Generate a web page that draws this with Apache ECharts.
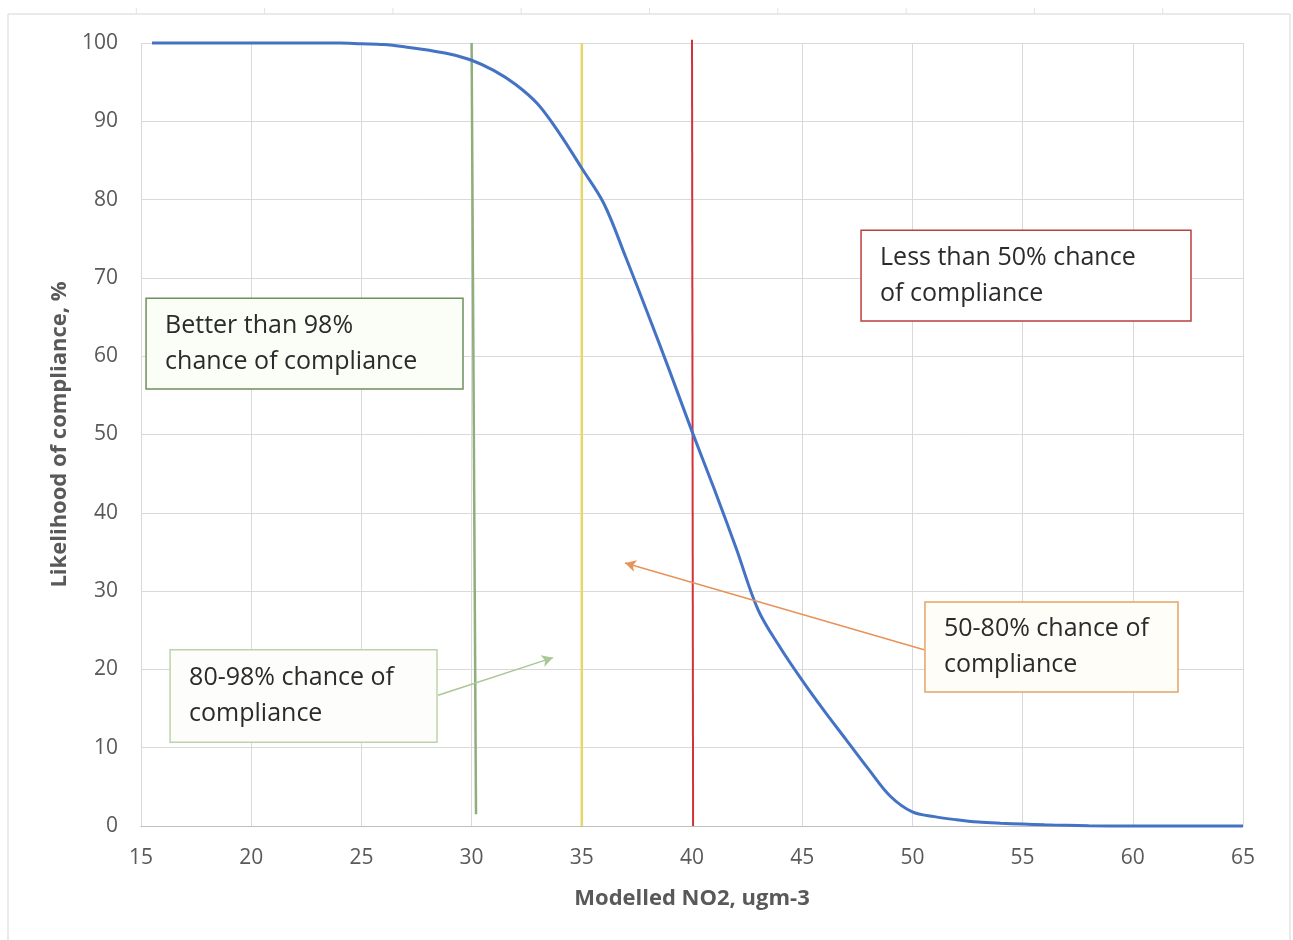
<!DOCTYPE html>
<html>
<head>
<meta charset="utf-8">
<script src="https://cdn.jsdelivr.net/npm/echarts@6/dist/echarts.min.js"></script>
<style>
html,body{margin:0;padding:0;background:#fff;}
#main{width:1293px;height:940px;}
</style>
</head>
<body>
<div id="main"></div>
<script>
// ---- Data ----
const xTicks = [15, 20, 25, 30, 35, 40, 45, 50, 55, 60, 65];
const yTicks = [0, 10, 20, 30, 40, 50, 60, 70, 80, 90, 100];
const no2 = [15.5, 20, 24, 25, 26, 27, 28, 29, 30, 31, 32, 33, 34, 35, 36, 37, 38, 39, 40, 41, 42, 43, 44, 45, 46, 47, 48, 49, 50, 51, 52, 53, 54, 55, 56, 57, 58, 60, 65];
const likelihood = [100, 100, 100, 99.9, 99.8, 99.5, 99.1, 98.6, 97.8, 96.5, 94.7, 92.2, 88.4, 84.0, 79.5, 72.6, 65.4, 58.0, 50.4, 43.1, 35.5, 27.6, 22.8, 18.6, 14.7, 11.0, 7.3, 3.8, 1.8, 1.2, 0.8, 0.5, 0.35, 0.25, 0.15, 0.08, 0.03, 0, 0];
// threshold lines
const greenLine = [[30.0, 100], [30.2, 1.5]];
const yellowLine = [[35, 100], [35, 0]];
const redLine = [[40, 100.4], [40.05, 0]];
// annotations (data coords: box corners)
const notes = [
  {text: ['Better than 98%', 'chance of compliance'], box: [15.23, 67.4, 29.61, 55.8], border: '#6f8f5c', fill: '#fbfdf7'},
  {text: ['Less than 50% chance', 'of compliance'], box: [47.67, 76.1, 62.64, 64.5], border: '#b8413f', fill: '#ffffff'},
  {text: ['80-98% chance of', 'compliance'], box: [16.32, 22.5, 28.43, 10.7], border: '#bcd4a8', fill: '#fdfefb'},
  {text: ['50-80% chance of', 'compliance'], box: [50.57, 28.6, 62.05, 17.1], border: '#e2a466', fill: '#fffdf8'}
];
const arrowGreen = [[28.48, 16.7], [33.69, 21.5]];
const arrowOrange = [[50.53, 22.5], [36.96, 33.6]];

const curve = no2.map((x, i) => [x, likelihood[i]]);

const chart = echarts.init(document.getElementById('main'), null, {renderer: 'canvas'});
const FONT = '"Open Sans", Lato, sans-serif';

const option = {
  backgroundColor: '#ffffff',
  animation: false,
  grid: {left: 141, right: 50, top: 43, bottom: 114, containLabel: false},
  xAxis: {
    type: 'value', min: xTicks[0], max: xTicks[xTicks.length - 1], interval: 5,
    name: 'Modelled NO2, ugm-3', nameLocation: 'middle', nameGap: 62,
    nameTextStyle: {color: '#595959', fontSize: 22, fontWeight: 'bold', fontFamily: FONT},
    axisLine: {show: true, lineStyle: {color: '#bfbfbf', width: 1}},
    axisTick: {show: false},
    axisLabel: {color: '#595959', fontSize: 21, fontFamily: FONT, margin: 22},
    splitLine: {show: true, lineStyle: {color: '#d9d9d9', width: 1}}
  },
  yAxis: {
    type: 'value', min: yTicks[0], max: yTicks[yTicks.length - 1], interval: 10,
    name: 'Likelihood of compliance, %', nameLocation: 'middle', nameGap: 69,
    nameTextStyle: {color: '#595959', fontSize: 22, fontWeight: 'bold', fontFamily: FONT},
    axisLine: {show: false},
    axisTick: {show: false},
    axisLabel: {color: '#595959', fontSize: 21, fontFamily: FONT, margin: 23},
    splitLine: {show: true, lineStyle: {color: '#d9d9d9', width: 1}}
  },
  series: [
    {type: 'line', data: greenLine, symbol: 'none', silent: true, clip: false,
     lineStyle: {color: '#8fae7c', width: 2.5}, z: 3},
    {type: 'line', data: yellowLine, symbol: 'none', silent: true, clip: false,
     lineStyle: {color: '#e9d66b', width: 2.5}, z: 3},
    {type: 'line', data: redLine, symbol: 'none', silent: true, clip: false,
     lineStyle: {color: '#d2333a', width: 2}, z: 3},
    {type: 'line', data: curve, symbol: 'none', smooth: 0.35, clip: false,
     lineStyle: {color: '#4472c4', width: 3}, z: 4},
    {type: 'line', data: [], symbol: 'none', silent: true,
     markLine: {
       silent: true, symbol: ['none', 'arrow'], symbolSize: [9, 11], label: {show: false},
       animation: false,
       data: [
         [{coord: arrowGreen[0], lineStyle: {color: '#a9c794', width: 1.5, type: 'solid'}}, {coord: arrowGreen[1]}],
         [{coord: arrowOrange[0], lineStyle: {color: '#e8925a', width: 1.5, type: 'solid'}}, {coord: arrowOrange[1]}]
       ]
     }, z: 5}
  ]
};
chart.setOption(option);

// outer frame (spreadsheet chart border)
const frame = [
  {type: 'line', shape: {x1: 8, y1: 14, x2: 1290, y2: 14}, style: {stroke: '#e3e3e3', lineWidth: 1.5}},
  {type: 'line', shape: {x1: 8, y1: 14, x2: 8, y2: 940}, style: {stroke: '#e3e3e3', lineWidth: 1.5}},
  {type: 'line', shape: {x1: 1290, y1: 14, x2: 1290, y2: 940}, style: {stroke: '#e3e3e3', lineWidth: 1.5}}
];
for (let i = 1; i <= 9; i++) {
  const x = 8 + i * 128.3;
  frame.push({type: 'line', shape: {x1: x, y1: 8, x2: x, y2: 14}, style: {stroke: '#e3e3e3', lineWidth: 1}});
}

const boxes = notes.map(n => {
  const p1 = chart.convertToPixel({gridIndex: 0}, [n.box[0], n.box[1]]);
  const p2 = chart.convertToPixel({gridIndex: 0}, [n.box[2], n.box[3]]);
  const w = p2[0] - p1[0], h = p2[1] - p1[1];
  return {
    type: 'group', x: p1[0], y: p1[1], z: 10,
    children: [
      {type: 'rect', shape: {x: 0, y: 0, width: w, height: h},
       style: {fill: n.fill, stroke: n.border, lineWidth: 1.5}},
      {type: 'text', x: 19, y: h / 2,
       style: {text: n.text.join('\n'), fill: '#2b2b2b', font: '25px ' + FONT,
               lineHeight: 36, verticalAlign: 'middle', align: 'left'}}
    ]
  };
});

chart.setOption({graphic: frame.concat(boxes)});
</script>
</body>
</html>
